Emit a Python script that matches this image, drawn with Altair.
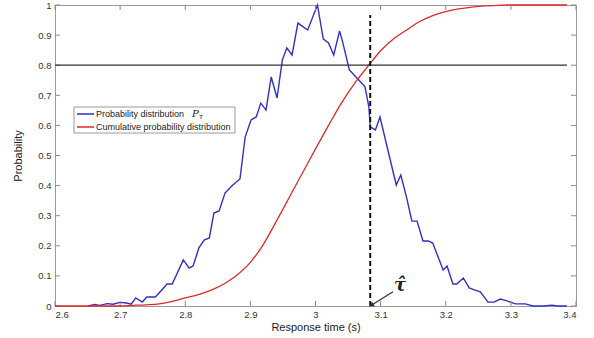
import altair as alt
import pandas as pd

# ---------------- data ----------------
x_ticks = [2.6, 2.7, 2.8, 2.9, 3.0, 3.1, 3.2, 3.3, 3.4]
y_ticks = [0.0, 0.1, 0.2, 0.3, 0.4, 0.5, 0.6, 0.7, 0.8, 0.9, 1.0]

blue_time = [2.651, 2.661, 2.669, 2.680, 2.689, 2.700, 2.710, 2.717, 2.724, 2.734,
             2.741, 2.754, 2.764, 2.772, 2.780, 2.797, 2.806, 2.812, 2.821, 2.829,
             2.837, 2.844, 2.852, 2.861, 2.873, 2.884, 2.892, 2.901, 2.909, 2.916,
             2.924, 2.932, 2.941, 2.949, 2.956, 2.964, 2.973, 2.988, 3.003, 3.012,
             3.020, 3.028, 3.037, 3.042, 3.052, 3.065, 3.076, 3.082, 3.084, 3.092,
             3.099, 3.124, 3.131, 3.140, 3.148, 3.156, 3.165, 3.173, 3.180, 3.196,
             3.202, 3.211, 3.217, 3.227, 3.236, 3.245, 3.253, 3.265, 3.274, 3.284,
             3.294, 3.307, 3.322, 3.334, 3.350, 3.363, 3.371, 3.386]
blue_prob = [0.000, 0.005, 0.002, 0.008, 0.006, 0.012, 0.010, 0.006, 0.027, 0.013,
             0.030, 0.030, 0.053, 0.073, 0.073, 0.153, 0.126, 0.133, 0.193, 0.219,
             0.226, 0.309, 0.316, 0.375, 0.402, 0.422, 0.561, 0.618, 0.628, 0.674,
             0.651, 0.761, 0.691, 0.817, 0.857, 0.834, 0.940, 0.917, 1.000, 0.887,
             0.874, 0.834, 0.914, 0.874, 0.784, 0.754, 0.728, 0.661, 0.595, 0.585,
             0.628, 0.402, 0.435, 0.359, 0.282, 0.282, 0.216, 0.216, 0.209, 0.120,
             0.133, 0.073, 0.073, 0.093, 0.060, 0.053, 0.047, 0.013, 0.013, 0.023,
             0.017, 0.007, 0.007, 0.000, 0.000, 0.003, 0.000, 0.000]

red_time = [2.60, 2.70, 2.72, 2.74, 2.76, 2.78, 2.80, 2.82, 2.84, 2.86, 2.88, 2.90,
            2.92, 2.94, 2.96, 2.98, 3.00, 3.02, 3.04, 3.06, 3.08, 3.10, 3.12, 3.14,
            3.16, 3.18, 3.20, 3.22, 3.24, 3.26, 3.28, 3.30, 3.386]
red_prob = [0.000, 0.000, 0.002, 0.004, 0.007, 0.015, 0.027, 0.038, 0.053, 0.074, 0.104, 0.145,
            0.205, 0.282, 0.362, 0.442, 0.522, 0.600, 0.675, 0.740, 0.795, 0.848, 0.888, 0.917,
            0.945, 0.965, 0.978, 0.987, 0.993, 0.997, 0.999, 1.000, 1.000]

series_names = ["Probability distribution", "Cumulative probability distribution"]
series_colors = ["#3131c4", "#dd2a2a"]

threshold_prob = [0.8, 0.8]
threshold_time = [2.6, 3.386]
tau_time = [3.084, 3.084]
tau_prob = [0.0, 0.967]
arrow_tail = [3.119, 0.047]
arrow_head = [3.087, 0.004]
tau_label_pos = [3.130, 0.068]

# ---------------- chart ----------------
W, H = 521, 301
FONT = "Liberation Sans"

xs = alt.Scale(domain=[2.6, 3.4], nice=False, zero=False)
ys = alt.Scale(domain=[0, 1], nice=False, zero=False)
x_axis = alt.Axis(values=x_ticks, format=".1~f", title="Response time (s)",
                  labelPadding=3, titlePadding=3, labelOverlap=False, tickCount=9)
y_axis = alt.Axis(values=y_ticks, format=".1~f", title="Probability",
                  labelPadding=4, titlePadding=14, labelOverlap=False, tickCount=11)


def X(field="t"):
    return alt.X(f"{field}:Q", scale=xs, axis=x_axis)


def Y(field="p"):
    return alt.Y(f"{field}:Q", scale=ys, axis=y_axis)


blue_df = pd.DataFrame({"t": blue_time, "p": blue_prob})
red_df = pd.DataFrame({"t": red_time, "p": red_prob})

blue = alt.Chart(blue_df).mark_line(strokeWidth=1.4, color=series_colors[0]).encode(x=X(), y=Y())
red = alt.Chart(red_df).mark_line(strokeWidth=1.3, color=series_colors[1],
                                  interpolate="monotone").encode(x=X(), y=Y())

thr = alt.Chart(pd.DataFrame({"t": threshold_time, "p": threshold_prob})).mark_line(
    color="#333333", strokeWidth=1.2).encode(x=X(), y=Y())

dash = alt.Chart(pd.DataFrame({"t": tau_time, "p": tau_prob})).mark_line(
    color="#111111", strokeWidth=2, strokeDash=[5, 3]).encode(x=X(), y=Y())

arrow_df = pd.DataFrame({"t": [arrow_tail[0]], "p": [arrow_tail[1]],
                         "t2": [arrow_head[0]], "p2": [arrow_head[1]]})
arrow = alt.Chart(arrow_df).mark_rule(color="#333333", strokeWidth=1.2).encode(
    x=X(), y=Y(), x2="t2:Q", y2="p2:Q")
head = alt.Chart(arrow_df).mark_point(shape="triangle", angle=239, filled=True,
                                      size=30, color="#333333", opacity=1).encode(
    x=X("t2"), y=Y("p2"))

tau_txt = alt.Chart(pd.DataFrame({"t": [tau_label_pos[0]], "p": [tau_label_pos[1]]})).mark_text(
    text="τ̂", font="DejaVu Serif", fontStyle="italic", fontWeight="bold",
    fontSize=18, color="#222222").encode(x=X(), y=Y())

# ---------------- hand-drawn legend box (MATLAB style) ----------------
one = pd.DataFrame({"a": [0]})
leg_box = alt.Chart(one).mark_rect(fill="white", stroke="#9a9a9a", strokeWidth=1).encode(
    x=alt.value(19), x2=alt.value(180), y=alt.value(102), y2=alt.value(128))
leg_l1 = alt.Chart(one).mark_rule(color=series_colors[0], strokeWidth=1.5).encode(
    x=alt.value(22), x2=alt.value(39), y=alt.value(109))
leg_l2 = alt.Chart(one).mark_rule(color=series_colors[1], strokeWidth=1.5).encode(
    x=alt.value(22), x2=alt.value(39), y=alt.value(122))
leg_t1 = alt.Chart(one).mark_text(text=series_names[0], font=FONT, fontSize=9,
                                  color="#222", align="left", baseline="middle").encode(
    x=alt.value(41), y=alt.value(109))
leg_t2 = alt.Chart(one).mark_text(text=series_names[1], font=FONT, fontSize=9,
                                  color="#222", align="left", baseline="middle").encode(
    x=alt.value(41), y=alt.value(122))
p_txt = alt.Chart(one).mark_text(
    text="P", font="DejaVu Serif", fontStyle="italic", fontSize=10, color="#222",
    align="left", baseline="alphabetic").encode(x=alt.value(137), y=alt.value(112))
sub_txt = alt.Chart(one).mark_text(
    text="τ", font="DejaVu Serif", fontStyle="italic", fontSize=7, color="#222",
    align="left", baseline="alphabetic").encode(x=alt.value(144), y=alt.value(114))

# inward ticks on all four sides
xt = pd.DataFrame({"t": x_ticks})
yt = pd.DataFrame({"p": y_ticks})
tick_style = dict(color="#8a8a8a", strokeWidth=1)
tb = alt.Chart(xt).mark_rule(**tick_style).encode(x=X(), y=alt.value(H), y2=alt.value(H - 5))
tt = alt.Chart(xt).mark_rule(**tick_style).encode(x=X(), y=alt.value(0), y2=alt.value(5))
tl = alt.Chart(yt).mark_rule(**tick_style).encode(y=Y(), x=alt.value(0), x2=alt.value(5))
tr = alt.Chart(yt).mark_rule(**tick_style).encode(y=Y(), x=alt.value(W - 5), x2=alt.value(W))

chart = alt.layer(
    blue, tb, tt, tl, tr, red, thr, dash, arrow, head, tau_txt,
    leg_box, leg_l1, leg_l2, leg_t1, leg_t2, p_txt, sub_txt,
).properties(
    width=W, height=H,
    autosize=alt.AutoSizeParams(type="none"),
    padding={"left": 55, "top": 5, "right": 18, "bottom": 32},
    background="white",
).configure_view(stroke="#9a9a9a", strokeWidth=1).configure_axis(
    domainColor="#9a9a9a", labelFont=FONT, labelFontSize=9.5, labelColor="#333333",
    titleFont=FONT, titleFontSize=11, titleFontWeight="normal", titleColor="#222222",
    grid=False, ticks=False,
)

chart.save("out.html", embed_options={"renderer": "svg", "actions": False})
